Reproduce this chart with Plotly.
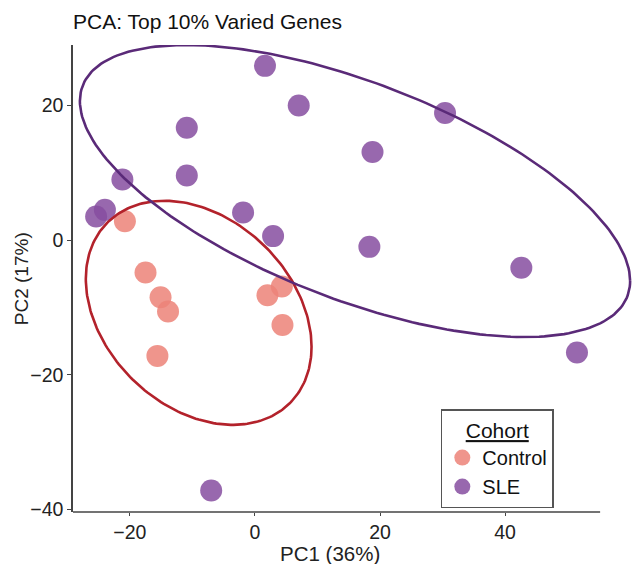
import numpy as np
import plotly.graph_objects as go

# ---- data ----
control_pc1 = [-20.8, -17.5, -15.1, -13.9, -15.6, 2.0, 4.3, 4.4]
control_pc2 = [2.8, -4.8, -8.5, -10.6, -17.2, -8.2, -6.9, -12.6]
sle_pc1 = [-10.9, -10.9, -21.2, -25.4, -24.0, -1.9, 1.6, 7.0, 18.8, 30.4, 2.9, 18.3, 42.6, -7.0, 51.5]
sle_pc2 = [16.7, 9.6, 9.0, 3.5, 4.5, 4.1, 25.9, 20.0, 13.1, 18.9, 0.6, -1.0, -4.1, -37.2, -16.7]

# 95% confidence ellipses: centre, half-extent in PC1, half-extent in PC2, cross term
control_ellipse_center = [-9.0, -10.8]
control_ellipse_half_pc1 = 18.05
control_ellipse_half_pc2 = 16.65
control_ellipse_cross = -91.0
sle_ellipse_center = [16.0, 7.3]
sle_ellipse_half_pc1 = 44.0
sle_ellipse_half_pc2 = 21.7
sle_ellipse_cross = -588.0

x_ticks = [-20, 0, 20, 40]
y_ticks = [-40, -20, 0, 20]

control_fill = "#EC8378"
sle_fill = "#864EA0"
control_line = "#B3222B"
sle_line = "#5A2A78"


def ellipse_path(center, half_x, half_y, cross, segments=240):
    shape = np.array([[half_x ** 2, cross], [cross, half_y ** 2]])
    r = np.linalg.cholesky(shape).T
    ang = np.linspace(0, 2 * np.pi, segments + 1)
    unit = np.column_stack([np.cos(ang), np.sin(ang)])
    e = np.asarray(center) + unit @ r
    return e[:, 0], e[:, 1]


FONT = "Liberation Sans, Arial, sans-serif"

fig = go.Figure()
fig.add_trace(go.Scatter(x=control_pc1, y=control_pc2, mode="markers", name="Control",
                         marker=dict(size=22, color=control_fill, opacity=0.85, line=dict(width=0))))
fig.add_trace(go.Scatter(x=sle_pc1, y=sle_pc2, mode="markers", name="SLE",
                         marker=dict(size=22, color=sle_fill, opacity=0.85, line=dict(width=0))))

ex, ey = ellipse_path(control_ellipse_center, control_ellipse_half_pc1,
                      control_ellipse_half_pc2, control_ellipse_cross)
fig.add_trace(go.Scatter(x=ex, y=ey, mode="lines", line=dict(color=control_line, width=2.6),
                         showlegend=False, hoverinfo="skip"))
ex, ey = ellipse_path(sle_ellipse_center, sle_ellipse_half_pc1,
                      sle_ellipse_half_pc2, sle_ellipse_cross)
fig.add_trace(go.Scatter(x=ex, y=ey, mode="lines", line=dict(color=sle_line, width=2.6),
                         showlegend=False, hoverinfo="skip"))

x_lo, x_axis_hi, x_panel_hi = -29.1, 55.2, 60.3

fig.update_layout(
    width=632, height=564,
    margin=dict(l=73, r=0, t=45, b=52),
    paper_bgcolor="white", plot_bgcolor="white",
    font=dict(family=FONT, size=20, color="#222"),
    title=dict(text="PCA: Top 10% Varied Genes", x=0, xref="paper", xanchor="left",
               y=1 - 22 / 564, yref="container", yanchor="middle",
               font=dict(family=FONT, size=21, color="#111")),
    xaxis=dict(range=[x_lo, x_panel_hi], tickvals=x_ticks, showgrid=False, zeroline=False,
               showline=False, ticks="outside", ticklen=3, tickwidth=1.3, tickcolor="#444",
               tickfont=dict(size=19.5, color="#222")),
    yaxis=dict(range=[-40.4, 29.0], tickvals=y_ticks, showgrid=False, zeroline=False,
               showline=True, linecolor="#444", linewidth=1.5,
               ticks="outside", ticklen=4, tickwidth=1.3, tickcolor="#444",
               tickfont=dict(size=19.5, color="#222")),
    annotations=[
        dict(text="PC2 (17%)", textangle=-90, xref="paper", yref="paper",
             x=(21.7 - 73) / 559, y=0.5, xanchor="center", yanchor="middle",
             showarrow=False, font=dict(size=19, color="#222")),
        dict(text="PC1 (36%)", xref="paper", yref="paper",
             x=(330 - 73) / 559, y=-(553 - 512) / 467, xanchor="center", yanchor="middle",
             showarrow=False, font=dict(size=20.5, color="#222")),
    ],
    legend=dict(x=0.658, y=0.008, xanchor="left", yanchor="bottom",
                bgcolor="white", bordercolor="#555", borderwidth=1.5,
                font=dict(size=20, color="#111"),
                title=dict(text="<u>Cohort</u>", side="top center", font=dict(size=21, color="#111"))),
    shapes=[dict(type="line", xref="x", yref="paper", x0=x_lo, x1=x_axis_hi, y0=0, y1=0,
                 line=dict(color="#444", width=1.5))],
)

fig.write_html("out.html", config={"displayModeBar": False},
               post_script="document.body.style.margin='0px';")
